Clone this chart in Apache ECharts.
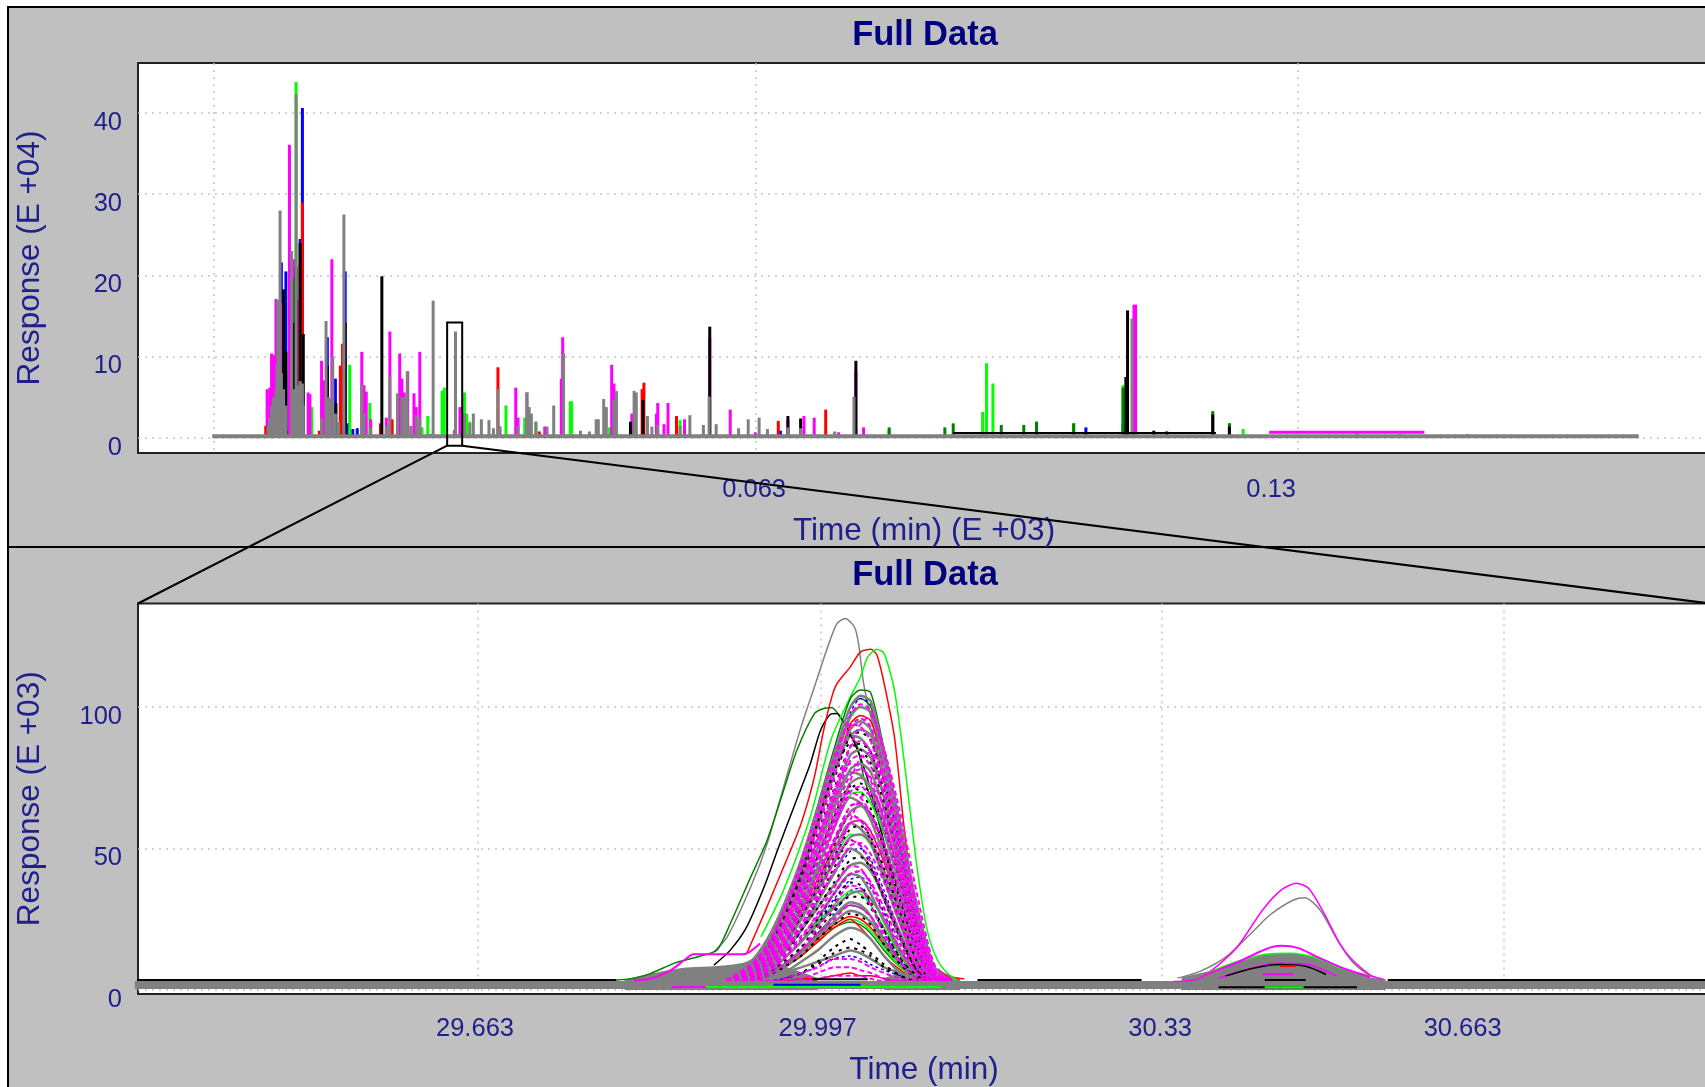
<!DOCTYPE html>
<html><head><meta charset="utf-8">
<style>html,body{margin:0;padding:0;background:#fff;overflow:hidden}#c{width:1705px;height:1087px}</style>
<script src="https://cdn.jsdelivr.net/npm/echarts@6/dist/echarts.min.js"></script>
</head><body><div id="c"></div>
<script>
// ---------- text ----------
var titleText = 'Full Data';
var topYName = 'Response (E +04)';
var topXName = 'Time (min) (E +03)';
var lowYName = 'Response (E +03)';
var lowXName = 'Time (min)';

// ---------- ticks ----------
var topXTicks = [-4, 63, 130];
var topXLabelValues = [63, 130];
var topXLabels = ['0.063', '0.13'];
var topYTicks = [0, 10, 20, 30, 40];
var lowXTicks = [29.663, 29.997, 30.33, 30.663];
var lowXLabels = ['29.663', '29.997', '30.33', '30.663'];
var lowYTicks = [0, 50, 100];

// ---------- overview: spikes as [time (min), response (E+04)] ----------
var ovBlue = [[4.32,21.6],[4.88,20.5],[6.64,24.5],[6.92,40.6],[10.0,12.4],[11.0,7.3],[12.21,20.5],[12.55,1.8],[13.15,1.1],[13.7,1.2],[5.15,0.9],[31.25,1.4],[103.76,1.3],[108.35,1.8],[66.0,0.9],[22.9,0.5]];
var ovLime = [[6.14,43.8],[8.08,3.8],[12.77,9],[15.25,4.3],[22.42,2.7],[21.7,1.3],[20.33,0.9],[24.19,5.8],[24.46,6.2],[26.95,5.6],[27.22,3],[27.61,2],[32.08,4],[34.4,2.5],[35.78,2],[40.03,4.5],[40.19,4.5],[44.88,1.3],[91.0,3.2],[91.48,9.2],[92.27,6.7],[79.44,1],[108.35,6.5],[121.5,1.8],[123.2,1.1],[97.66,2],[102.25,1.8],[53.6,2.2]];
var ovMagenta = [[2.56,6],[2.89,6.2],[3.11,10.4],[3.33,10.2],[3.44,10],[3.66,17.1],[4.43,16.6],[4.88,8],[5.32,36.1],[5.87,22],[6.42,17],[7.63,5.6],[7.85,5.4],[9.29,9.5],[9.62,7.1],[10.56,22],[14.26,10.6],[14.53,6.5],[14.81,5.7],[15.36,2.3],[17.29,2.5],[17.73,13.1],[18.95,10.4],[19.22,7.3],[19.5,5.6],[19.94,8.2],[20.71,5.5],[20.99,3.8],[21.43,10.6],[25.73,1],[26.39,3.8],[33.29,6.2],[33.57,2.5],[34.67,5.6],[36.88,1.4],[38.92,7.3],[39.09,12.4],[45.15,9],[45.43,6.7],[45.71,5.7],[47.64,3],[49.02,6],[50.68,3],[50.84,4.3],[51.61,1.7],[52.11,4.3],[54.15,2.3],[57.27,12.3],[59.8,3.5],[66.93,2.2],[68.91,2.7],[70.18,2.5],[75.33,8.2],[76.28,1.3],[109.7,16.4],[109.9,16.4],[62.9,0.7],[64.4,0.6],[73.2,0.7]];
var ovRed = [[2.39,1.5],[9.01,0.9],[6.64,21.4],[6.92,29],[11.61,8.9],[11.88,11.6],[16.57,1.8],[18.01,2.3],[31.09,8.7],[48.91,6],[49.13,6.8],[53.16,2.7],[65.74,2.1],[71.6,3.5],[36.2,0.8]];
var ovDark = [[5.98,19.6],[6.14,9],[79.44,1.3],[86.33,1.3],[87.36,1.8],[93.3,1.6],[96.08,1.6],[97.66,2],[102.25,1.8],[108.35,6.2],[119.44,3.3],[121.5,1.8]];
var ovBlack = [[4.6,18.3],[4.88,10.6],[5.87,14.2],[6.14,21],[6.64,24],[7.03,12.8],[10.0,8.9],[11.06,4.3],[12.21,14.2],[16.74,19.9],[47.47,2],[49.02,4.7],[57.27,13.7],[66.93,2.7],[68.5,2.4],[75.33,9.5],[108.91,15.7],[108.7,7.5],[112.15,0.9],[113.74,0.8],[119.44,2.9],[121.5,1.4]];
var ovGray = [[2.67,1.5],[2.89,2.5],[3.11,4],[3.33,5],[3.66,6],[3.77,8.9],[3.88,17],[4.16,28],[4.32,8],[4.6,6],[4.88,4],[5.59,23],[5.87,6],[6.14,42.3],[6.42,6.5],[6.64,7],[6.92,6.7],[7.03,4],[9.29,2.5],[9.84,14.4],[10.0,5],[10.28,5],[10.67,10],[11.0,3],[11.39,2],[12.05,27.5],[14.26,6.5],[14.53,3],[15.36,1.2],[17.73,7.6],[17.29,1.5],[18.67,5.5],[19.22,5],[19.5,5],[19.88,8.2],[20.33,1.5],[21.43,2.5],[21.0,2.8],[23.08,16.9],[25.84,13.1],[26.95,3],[27.61,1.8],[28.05,3],[29.04,2.3],[29.98,2.2],[30.53,1.2],[31.09,6],[31.36,1.4],[33.57,1.5],[34.67,5.6],[34.95,3.8],[35.22,3],[35.78,2],[37.16,1.4],[37.98,4],[39.2,10.4],[41.29,0.9],[42.4,0.8],[43.23,2.3],[43.5,2.3],[44.16,4.8],[44.49,3.8],[45.43,4.7],[45.71,5.8],[47.92,5.8],[48.19,5.6],[49.57,2.7],[50.12,1.4],[50.84,1.6],[53.6,1.5],[54.81,2.8],[56.48,1.6],[57.19,5.1],[58.06,1.7],[60.83,1.2],[62.02,2.3],[63.37,2.5],[64.4,1.1],[66.93,1.3],[68.5,1.2],[72.71,0.8],[75.09,5.1],[109.46,14.7],[137.26,0.6],[142.57,0.5],[150.96,0.5]];
var ovBaselineGray = [[-4.23,0.2],[172.1,0.2]];
var ovBaselineBlack = [[87.36,0.6],[119.84,0.6]];
var ovBaselineMagenta = [[126.41,0.7],[145.6,0.7]];

// ---------- zoomed panel: shared time grid for the main-peak traces ----------
var peakTimes = [29.929,29.945,29.961,29.978,29.994,30.010,30.026,30.036,30.046,30.059,30.075,30.091,30.108];
var peakFootStart = [29.905, 3.5];
var peakFootEnd = [30.125, 3.5];
var blueRows = [
 [9,17,29,44,61,80,98,103,101,85,58,30,8],
 [4,8,14,22,31,41,49,50,46,35,20,7,3],
 [4,6,11,17,24,32,39,40,36,27,14,5,3],
 [3,5,8,13,19,27,35,36,30,20,10,4,3],
 [3,3,4,6,8,11,12,11,9,7,5,3,3]];
var limeRows = [
 [9,16,28,43,60,79,96,100,98,82,56,28,7],
 [6,11,20,31,44,57,69,70,66,55,36,15,4],
 [5,9,16,26,36,46,55,55,51,40,25,9,3],
 [4,6,11,17,24,30,35,34,30,22,12,4,3],
 [3,5,8,12,17,22,25,24,21,15,8,4,3]];
var darkRows = [
 [10,17,30,46,65,85,103,106,105,85,59,29,8],
 [9,16,29,45,63,82,100,103,100,82,56,27,7],
 [3,6,9,14,20,26,30,29,26,18,10,4,3],
 [3,5,8,12,17,22,24,23,20,14,8,4,3]];
var redRows = [
 [8,15,27,42,58,76,94,97,95,80,54,27,6],
 [5,10,18,28,39,50,59,60,56,45,28,11,4],
 [3,5,9,13,18,23,26,25,22,16,9,4,3],
 [3,5,8,12,17,22,25,22,18,12,7,3,3],
 [3,3,3,4,4,5,6,5,5,4,3,3,3]];
var grayRows = [
 [10,18,30,46,64,83,100,104,102,84,58,30,8],
 [10,17,29,45,62,80,97,100,98,80,55,28,7],
 [8,15,26,42,58,76,92,95,92,76,52,26,6],
 [9,17,29,44,60,78,90,92,90,74,50,24,6],
 [7,14,24,38,53,68,83,85,82,68,46,22,5],
 [7,13,23,36,50,64,78,80,77,64,43,20,5],
 [6,12,21,34,47,60,73,75,72,60,40,18,4],
 [5,10,18,29,41,52,63,65,62,51,33,14,4],
 [5,9,16,25,35,45,54,55,52,42,27,11,4],
 [4,8,14,21,29,37,44,45,42,33,20,8,3],
 [4,6,11,17,23,29,34,35,32,25,14,6,3],
 [3,5,9,14,19,24,28,27,24,17,9,4,3],
 [3,4,6,8,10,12,14,13,11,8,6,4,3],
 [7,13,25,40,58,78,90,89,84,68,44,20,5],
 [6,11,21,35,50,66,77,76,71,56,36,16,4],
 [5,9,18,30,43,57,68,66,60,47,28,12,4],
 [4,8,15,25,37,49,59,57,52,39,23,9,3],
 [4,7,13,21,31,41,50,48,43,32,18,7,3],
 [3,6,11,17,25,34,41,40,34,24,13,5,3],
 [3,5,8,13,19,26,31,30,26,17,9,4,3],
 [3,4,6,10,14,19,22,21,18,12,6,3,3]];
var blackRows = [
 [8,15,27,41,57,74,90,91,88,74,50,25,6],
 [7,14,25,39,55,71,86,87,84,70,47,23,5],
 [6,11,20,32,45,59,71,73,69,58,38,16,4],
 [5,10,18,29,41,53,65,66,62,51,33,13,4],
 [5,9,16,26,36,47,57,58,54,43,27,10,3],
 [4,8,13,21,29,38,46,47,43,33,19,7,3],
 [4,7,12,18,25,34,41,42,38,28,16,6,3],
 [3,6,10,15,21,28,33,33,29,21,11,4,3],
 [3,5,8,12,18,23,27,26,23,16,9,4,3],
 [3,3,4,6,10,15,18,16,13,9,5,3,3],
 [3,3,4,6,9,13,15,14,12,8,5,3,3],
 [7,13,25,41,59,77,87,85,80,66,43,20,5],
 [5,10,19,32,47,61,72,70,64,50,31,14,4],
 [4,8,16,27,38,51,62,60,53,40,24,10,3],
 [4,7,12,21,32,43,53,51,44,32,18,7,3],
 [3,5,9,15,23,31,38,37,31,21,11,5,3]];
var magentaRows = [
 [9,16,28,43,60,79,97,101,99,83,57,29,7],
 [8,15,27,42,57,75,93,96,93,78,53,26,6],
 [7,14,24,38,54,70,86,88,84,72,50,24,6],
 [7,13,23,37,52,66,81,83,79,69,46,20,5],
 [6,12,22,34,48,62,76,78,75,64,42,18,5],
 [6,11,20,32,45,58,70,72,68,58,38,16,4],
 [5,10,18,30,41,53,65,66,62,52,34,14,4],
 [5,9,17,27,37,48,59,60,56,46,29,12,4],
 [4,8,15,23,32,42,51,52,48,38,23,9,3],
 [4,7,12,19,26,34,41,42,38,29,16,6,3],
 [3,5,9,14,20,25,30,29,26,19,10,4,3],
 [3,3,4,6,8,11,11,10,8,6,4,3,3],
 [3,3,3,4,6,8,8,7,6,4,3,3,3],
 [3,3,3,3,4,5,5,5,4,3,3,3,3],
 [8,15,28,45,63,82,94,93,88,72,48,24,6],
 [6,12,23,37,53,70,80,79,74,60,39,18,5],
 [5,10,19,32,46,60,70,68,62,49,30,13,4],
 [4,8,16,27,39,52,62,60,54,41,25,10,3],
 [4,7,14,23,34,45,53,51,45,33,19,8,3],
 [3,6,11,18,27,36,44,43,37,26,14,6,3],
 [3,5,9,14,22,30,37,36,30,20,10,4,3],
 [7,12,22,35,50,68,86,94,97,85,62,34,9],
 [5,9,17,28,41,57,74,82,84,75,54,28,7],
 [4,7,13,22,33,46,60,68,70,62,44,22,5]];

// ---------- zoomed panel: individually read traces, [time (min), response (E+03)] ----------
var outlierGray = [[29.893,13.5],[29.906,18.8],[29.929,36.5],[29.945,51.8],[29.961,71.8],[29.978,93],[29.991,107.1],[30.004,121.3],[30.013,129.5],[30.021,131.3],[30.030,128.3],[30.034,122.5],[30.039,108.3],[30.046,96.5],[30.056,82.4],[30.065,58.8],[30.078,35.3],[30.091,14.1],[30.108,4]];
var outlierRed = [[29.925,12.9],[29.942,27],[29.961,43.5],[29.978,58.8],[29.991,75.3],[30.0,91.8],[30.008,103.6],[30.013,108.3],[30.026,114.2],[30.036,119.5],[30.046,120.4],[30.052,118.3],[30.059,108.3],[30.069,89.5],[30.078,58.8],[30.088,28.2],[30.091,21.1],[30.104,9.4],[30.124,4.6],[30.137,4]];
var outlierLime = [[29.939,18.8],[29.961,35.3],[29.987,61.2],[30.007,88.3],[30.026,103.6],[30.036,110.7],[30.043,117.7],[30.052,120.4],[30.059,118.9],[30.069,106],[30.078,82.4],[30.091,43.5],[30.101,21.1],[30.111,10.5],[30.121,5.8],[30.130,3.5]];
var outlierDark = [[29.798,3.5],[29.815,4.2],[29.831,5.8],[29.854,9.4],[29.880,12],[29.896,14.1],[29.909,23.5],[29.929,40],[29.945,53],[29.961,70.6],[29.974,84.8],[29.991,97.7],[30.0,99.5],[30.008,99.8],[30.020,94.2],[30.033,85.9],[30.039,75.3],[30.056,56.5],[30.072,29.4],[30.085,11.7]];
var outlierBlack = [[29.893,8.8],[29.909,14.1],[29.925,22.3],[29.942,36.5],[29.955,49.4],[29.971,64.7],[29.987,80],[29.997,91.8],[30.007,97.5],[30.013,97.7],[30.020,94.2],[30.033,84.8],[30.046,70.6],[30.062,47],[30.078,21.1],[30.091,7]];
var shoulderMagenta = [[29.815,3.5],[29.831,4],[29.851,7],[29.864,10.5],[29.873,12.6],[29.922,12.6],[29.938,16.4]];
var shoulderFill = [[29.806,3.5],[29.831,5.5],[29.864,7.6],[29.896,8.2],[29.922,9.4],[29.938,11.7],[29.961,8.2],[29.994,4]];
var tailFill = [[30.059,4],[30.085,6.4],[30.108,5.8],[30.133,4]];
var secondFill = [[30.349,4.2],[30.383,7.1],[30.413,10.6],[30.439,12.6],[30.465,12.4],[30.488,10],[30.510,6.8],[30.533,4.2],[30.548,3.5]];
var secondMagentaA = [[30.341,3],[30.367,4.2],[30.401,14.2],[30.428,28.3],[30.446,35.3],[30.461,37.7],[30.473,35.9],[30.488,27.1],[30.503,16.5],[30.514,11.2],[30.533,5.3],[30.546,3.8]];
var secondGrayA = [[30.345,4.2],[30.367,6.6],[30.393,11.9],[30.420,21.2],[30.435,26.5],[30.458,31.8],[30.469,32.6],[30.484,28.3],[30.499,18.9],[30.514,10.6],[30.529,5.9],[30.544,3.5]];
var secondMagentaB = [[30.371,5.3],[30.401,9.4],[30.431,14.4],[30.446,15.6],[30.463,14.8],[30.480,11.9],[30.506,7.8],[30.533,4.6]];
var secondLime = [[30.371,5.5],[30.401,9.8],[30.431,12.6],[30.455,13],[30.480,11.4],[30.506,7.4],[30.533,4.9]];
var secondMagentaC = [[30.385,4.2],[30.415,7.5],[30.440,9.5],[30.470,9.2],[30.500,5]];
var secondBlackA = [[30.392,5],[30.420,7.8],[30.445,9],[30.470,8.4],[30.490,5.5]];
var secondRed = [[30.445,8.5],[30.460,8.5]];
var secondBlackFlat = [[30.385,1],[30.520,1]];
var secondBlackMid = [[30.430,3.5],[30.470,3.5]];
var secondLimeFlat = [[30.430,1],[30.468,1]];
var secondMagentaFlat = [[30.428,5.6],[30.458,5.6]];
var lowBand = [[29.3285,1.77],[30.8642,1.77]];
var lowTopBlackA = [[29.3285,3.55],[29.798,3.55]];
var lowTopBlackB = [[30.150,3.55],[30.31,3.55]];
var lowTopBlackC = [[30.55,3.55],[30.8642,3.55]];
var flatLime = [[29.885,1.1],[30.114,1.1]];
var flatMagenta = [[29.852,1.1],[29.885,1.1]];
var flatBlue = [[29.951,1.9],[30.036,1.9]];
var flatBlack = [[29.989,3.8],[30.043,3.8]];

// ---------- overlay window (in overview axis units) ----------
var zoomWindowTime = [24.81, 26.67];
var zoomWindowResponse = [14.2, -0.95];

var COL = {magenta:'#ff00ff', lime:'#00ff00', dark:'#008000', blue:'#0000ff', red:'#ff0000', black:'#000000', gray:'#808080'};
var TEXT = '#20208c', TITLE = '#000080', FONT = '"Liberation Sans", Arial, sans-serif';

function bars(data, color){ return {type:'bar', xAxisIndex:0, yAxisIndex:0, data:data, barWidth:3, barGap:'-100%', itemStyle:{color:color}, silent:true, animation:false, z:3}; }
function line(ax, data, color, w, opt){
  var s = {type:'line', xAxisIndex:ax, yAxisIndex:ax, data:data, symbol:'none', silent:true, animation:false, smooth:0.25,
    lineStyle:{color:color, width:w}, itemStyle:{color:color}, z:4};
  for (var k in (opt||{})) s[k]=opt[k];
  return s;
}
function rows(list, color, w, dash){
  return list.map(function(r){
    var pts = [peakFootStart].concat(r.map(function(v,i){return [peakTimes[i],v];}), [peakFootEnd]);
    var s = line(1, pts, color, w);
    if (dash) s.lineStyle.type = dash;
    return s;
  });
}

var series = [
  bars(ovBlue,COL.blue), bars(ovLime,COL.lime), bars(ovMagenta,COL.magenta), bars(ovRed,COL.red),
  bars(ovDark,COL.dark), bars(ovBlack,COL.black), bars(ovGray,COL.gray),
  line(0, ovBaselineGray, COL.gray, 4, {smooth:false}),
  line(0, ovBaselineBlack, COL.black, 2, {smooth:false}),
  line(0, ovBaselineMagenta, COL.magenta, 3, {smooth:false})
];
series = series.concat(
  [line(1, shoulderFill, COL.gray, 1.5, {areaStyle:{color:COL.gray,opacity:1}}),
   line(1, tailFill, COL.gray, 1.5, {areaStyle:{color:COL.gray,opacity:1}}),
   line(1, outlierGray, COL.gray, 1.5), line(1, outlierDark, COL.dark, 1.5), line(1, outlierBlack, COL.black, 1.5),
   line(1, outlierRed, COL.red, 1.5), line(1, outlierLime, COL.lime, 1.5), line(1, shoulderMagenta, COL.magenta, 2)],
  rows(darkRows, COL.dark, 1.5), rows(blueRows, COL.blue, 1.5, [3,3]), rows(limeRows, COL.lime, 1.5), rows(redRows, COL.red, 1.5),
  rows(grayRows, COL.gray, 2.5), rows(blackRows, COL.black, 2, [3,5]), rows(magentaRows, COL.magenta, 2, [5,3]),
  [line(1, lowTopBlackA, COL.black, 2, {smooth:false}), line(1, lowTopBlackB, COL.black, 2, {smooth:false}), line(1, lowTopBlackC, COL.black, 2, {smooth:false}),
   line(1, lowBand, COL.gray, 8, {smooth:false, clip:false, z:5}),
   line(1, secondFill, COL.gray, 1.5, {areaStyle:{color:COL.gray,opacity:1}, z:5}),
   line(1, secondGrayA, COL.gray, 1.5, {z:6}), line(1, secondMagentaA, COL.magenta, 1.5, {z:6}), line(1, secondLime, COL.lime, 1.5, {z:6}),
   line(1, secondMagentaB, COL.magenta, 2, {z:6}), line(1, secondMagentaC, COL.magenta, 1.5, {z:6}), line(1, secondBlackA, COL.black, 1.5, {z:6}),
   line(1, secondRed, COL.red, 2, {z:6, smooth:false}), line(1, secondBlackFlat, COL.black, 2, {z:6, smooth:false}), line(1, secondLimeFlat, COL.lime, 2, {z:6, smooth:false}),
   line(1, secondBlackMid, COL.black, 2, {z:6, smooth:false}), line(1, secondMagentaFlat, COL.magenta, 2, {z:6, smooth:false}),
   line(1, flatLime, COL.lime, 2, {z:6, smooth:false}), line(1, flatMagenta, COL.magenta, 2, {z:6, smooth:false}),
   line(1, flatBlue, COL.blue, 2, {z:6, smooth:false}), line(1, flatBlack, COL.black, 2, {z:6, smooth:false})]
);

var SPLIT = {show:true, lineStyle:{color:'#c4c4c4', width:1.5, type:[2,5]}};
function labelShift(text, shift){ return shift ? '{s'+shift+'|'+text+'}' : text; }
function rich(shifts){
  var r = {};
  shifts.forEach(function(s){ r['s'+s] = {fontSize:25.5, fontFamily:FONT, color:TEXT, padding:[0,s*2,0,0]}; });
  return r;
}
function xAxis(grid, min, max, ticks, labelVals, labels, shifts, name, gap, margin){
  return {type:'value', gridIndex:grid, min:min, max:max, name:name, nameLocation:'middle', nameGap:gap,
    nameTextStyle:{fontSize:31.5, fontFamily:FONT, color:TEXT},
    axisLine:{show:false}, axisTick:{show:false, customValues:ticks}, splitLine:SPLIT,
    axisLabel:{show:true, customValues:labelVals, margin:margin, fontSize:25.5, fontFamily:FONT, color:TEXT, hideOverlap:false, showMinLabel:true, showMaxLabel:true,
      formatter:function(v){ var k = labelVals.indexOf(v); return labelShift(labels[k], shifts[k]); }, rich:rich(shifts.filter(Boolean))}};
}
function yAxis(grid, min, max, ticks, name){
  return {type:'value', gridIndex:grid, min:min, max:max, name:name, nameLocation:'middle', nameRotate:90, nameGap:92,
    nameTextStyle:{fontSize:31.5, fontFamily:FONT, color:TEXT},
    axisLine:{show:false}, axisTick:{show:false, customValues:ticks}, splitLine:SPLIT,
    axisLabel:{show:true, customValues:ticks, margin:16, color:TEXT, showMinLabel:true, showMaxLabel:true,
      formatter:function(v){ return '{p|'+v+'}'; },
      rich:{p:{fontSize:25.5, fontFamily:FONT, color:TEXT, padding:[19,0,0,0]}}}};
}

var chart = echarts.init(document.getElementById('c'), null, {renderer:'canvas', width:1705, height:1087});
var panel = [
  {type:'rect', z:-10, silent:true, shape:{x:8,y:7,width:1900,height:1200}, style:{fill:'#c0c0c0', stroke:'#000', lineWidth:2}},
  {type:'line', z:-9, silent:true, shape:{x1:8,y1:547,x2:1705,y2:547}, style:{stroke:'#000', lineWidth:2}}
];
chart.setOption({
  animation:false,
  backgroundColor:'#ffffff',
  title:[
    {text:titleText, left:920, top:13, textAlign:'center', textStyle:{fontSize:34.5, fontWeight:'bold', fontFamily:FONT, color:TITLE}},
    {text:titleText, left:920, top:553, textAlign:'center', textStyle:{fontSize:34.5, fontWeight:'bold', fontFamily:FONT, color:TITLE}}
  ],
  grid:[
    {left:138, top:63, width:1572, height:390, show:true, backgroundColor:'#fff', borderColor:'#222', borderWidth:2, outerBoundsMode:'none'},
    {left:138, top:603.5, width:1572, height:390.5, show:true, backgroundColor:'#fff', borderColor:'#222', borderWidth:2, outerBoundsMode:'none'}
  ],
  xAxis:[
    xAxis(0, -13.4, 180.9, topXTicks, topXLabelValues, topXLabels, [2,27], topXName, 62, 24),
    xAxis(1, 29.3315, 30.8642, lowXTicks, lowXTicks, lowXLabels, [3,3,2,41], lowXName, 60, 22)
  ],
  yAxis:[
    yAxis(0, -1.85, 46.15, topYTicks, topYName),
    yAxis(1, -1.41, 136.6, lowYTicks, lowYName)
  ],
  series:series,
  graphic:panel
});

// overview window and connectors are placed through the axis scales
var tl = chart.convertToPixel({gridIndex:0}, [zoomWindowTime[0], zoomWindowResponse[0]]);
var br = chart.convertToPixel({gridIndex:0}, [zoomWindowTime[1], zoomWindowResponse[1]]);
var lowL = chart.convertToPixel({gridIndex:1}, [29.3315, 136.6]);
var lowR = chart.convertToPixel({gridIndex:1}, [30.8642, 136.6]);
var conn = {stroke:'#000', lineWidth:2, fill:null};
chart.setOption({graphic:panel.concat([
  {type:'rect', z:100, silent:true, shape:{x:tl[0],y:tl[1],width:br[0]-tl[0],height:br[1]-tl[1]}, style:conn},
  {type:'line', z:100, silent:true, shape:{x1:tl[0],y1:br[1],x2:lowL[0],y2:lowL[1]}, style:conn},
  {type:'line', z:100, silent:true, shape:{x1:br[0],y1:br[1],x2:lowR[0],y2:lowR[1]}, style:conn}
])});
</script></body></html>
